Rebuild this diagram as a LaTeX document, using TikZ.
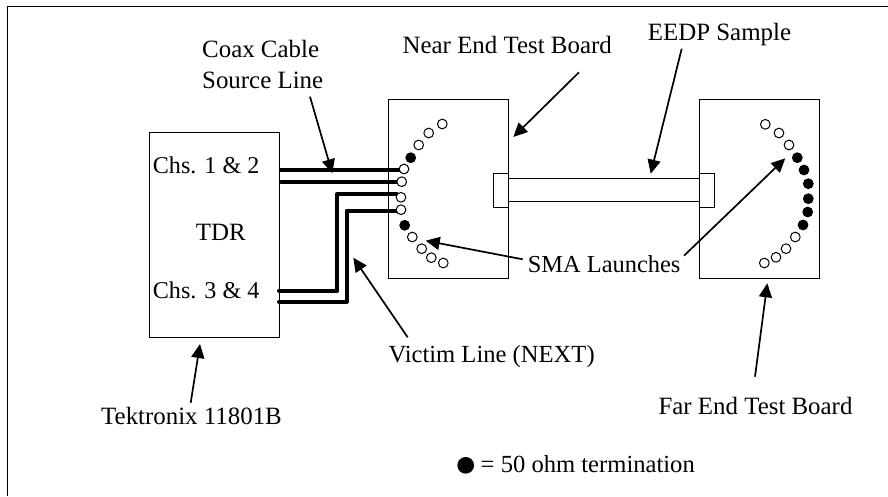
\documentclass[tikz,border=0pt]{standalone}
\usepackage{fontspec}
\setmainfont{Liberation Serif}
\usetikzlibrary{arrows.meta}
\tikzset{
 box/.style={draw,line width=1pt},
 lab/.style={inner sep=0pt,anchor=base west,font=\fontsize{24.9}{28}\selectfont},
 chs/.style={lab,font=\fontsize{24.1}{28}\selectfont},
 labB/.style={lab,font=\fontsize{24.6}{28}\selectfont},
 arr/.style={line width=1.7pt,-{Triangle[length=14pt,width=13pt]}},
 pad/.style={circle,draw,line width=1pt,fill=white,minimum size=9.7pt,inner sep=0pt},
 padF/.style={circle,draw,line width=1pt,fill=black,minimum size=9.7pt,inner sep=0pt},
 cab/.style={line cap=round,line join=round}
}
\begin{document}
\begin{tikzpicture}[x=1pt,y=-1pt]
\useasboundingbox (0,0) rectangle (888,496);
\draw[line width=1pt] (7,496) -- (7,6) -- (888,6);
% boxes
\draw[box] (149.5,132.7) rectangle (279,337.7);
\draw[box] (388.7,99.3) rectangle (508.7,278.7);
\draw[box] (699,99.3) rectangle (819.3,278.7);
\draw[box] (493.7,173.3) rectangle (508.7,207);
\draw[box] (699,173.3) rectangle (714.3,207);
\draw[box] (508.7,178.7) rectangle (699,201.7);
% cables
\draw[cab,line width=4.4pt] (281,169.7) -- (399,169.7);
\draw[cab,line width=3.6pt] (281,181.7) -- (397,181.7);
\draw[cab,line width=4pt] (279,290.7) -- (337.3,290.7) -- (337.3,194) -- (397,194);
\draw[cab,line width=4pt] (279,301.7) -- (346.7,301.7) -- (346.7,210.7) -- (398,210.7);
% near pads
\foreach \n/\p/\s in {a/{442.3,124}/pad,b/{428.7,133}/pad,c/{418.7,145}/pad,d/{410.7,157.7}/padF,e/{404,169}/pad,f/{401.7,181.7}/pad,g/{401,197.3}/pad,h/{401,209.7}/pad,i/{404.7,225.3}/padF,j/{412.3,237}/pad,k/{421.7,248.7}/pad,l/{431.3,257.7}/pad,m/{443.3,263}/pad}
  \node[\s] (n\n) at (\p) {};
% far pads
\foreach \n/\p/\s in {a/{765.3,124.3}/pad,b/{779,133}/pad,c/{789,145}/pad,d/{797.3,157.7}/padF,e/{804,170}/padF,f/{808.3,183.7}/padF,g/{808.3,198.7}/padF,h/{807.7,212}/padF,i/{803,225}/padF,j/{795.3,237}/pad,k/{786,248.7}/pad,l/{776,257.3}/pad,m/{764.3,263}/pad}
  \node[\s] (f\n) at (\p) {};
% labels
\node[lab] (coax) at (202,57) {Coax Cable};
\node[lab] (src) at (202,88) {Source Line};
\node[lab,anchor=base east] (near) at (612,53.5) {Near End Test Board};
\node[lab] (eedp) at (647.7,40) {EEDP Sample};
\node[chs] (ch12) at (152.7,173.3) {Chs. 1 \& 2};
\node[lab] (tdr) at (195.7,240) {TDR};
\node[chs] (ch34) at (152.7,298.3) {Chs. 3 \& 4};
\node[lab] (tek) at (101,424) {Tektronix 11801B};
\node[labB] (vic) at (388.3,362.3) {Victim Line (NEXT)};
\node[lab,font=\fontsize{24.4}{28}\selectfont] (sma) at (527.7,272.3) {SMA Launches};
\node[lab] (far) at (658.3,414.3) {Far End Test Board};
\node[labB,anchor=base east] (term) at (695,472.7) {= 50 ohm termination};
\node[circle,fill=black,minimum size=16.7pt,inner sep=0pt] (dot) at (465.7,465.3) {};
% arrows
\draw[arr] (310,96.7) -- (332.3,173.3);
\draw[arr] (579,72.3) -- (513.3,137);
\draw[arr] (681.7,48.7) -- (650.7,173.7);
\draw[arr] (407.7,337.3) -- (353.3,257.7);
\draw[arr] (522.7,259.3) -- (425.7,240.7);
\draw[arr] (684,255.7) -- (785.3,158.3);
\draw[arr] (190.7,402.7) -- (200,344);
\draw[arr] (755,376.7) -- (767.3,283.3);
\end{tikzpicture}
\end{document}
